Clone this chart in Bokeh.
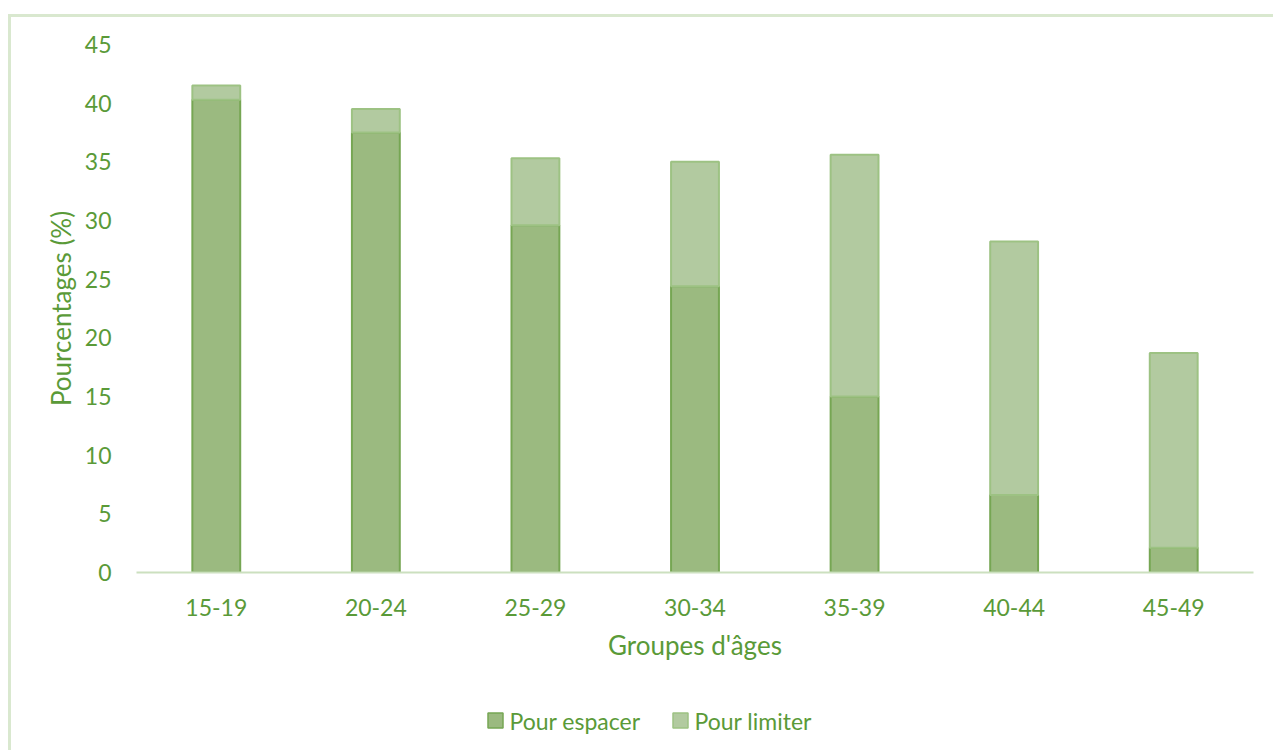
from bokeh.plotting import figure
from bokeh.models import ColumnDataSource
from bokeh.layouts import column
from bokeh.core.properties import value
from bokeh.embed import file_html
from bokeh.resources import INLINE

# Age groups and percentages (stacked)
groupes = ["15-19", "20-24", "25-29", "30-34", "35-39", "40-44", "45-49"]
pour_espacer = [40.3, 37.5, 29.6, 24.4, 15.0, 6.6, 2.1]
pour_limiter = [1.2, 2.0, 5.7, 10.6, 20.6, 21.6, 16.6]
y_ticks = [0, 5, 10, 15, 20, 25, 30, 35, 40, 45]
series = ["Pour espacer", "Pour limiter"]

TEXT = "#5A9A38"
FONT = "Lato"
FILLS = ["#9BBA80", "#B2CAA0"]
EDGES = ["#76A653", "#9DC283"]
FRAME_W = 1117

src = ColumnDataSource(dict(groupes=groupes, espacer=pour_espacer, limiter=pour_limiter))

p = figure(
    x_range=groupes, y_range=(0, 45),
    frame_width=FRAME_W, frame_height=528,
    output_backend="svg", toolbar_location=None,
    min_border_left=125, min_border_right=20, min_border_top=27, min_border_bottom=120,
)

p.vbar_stack(["espacer", "limiter"], x="groupes", width=0.3, source=src,
             fill_color=FILLS, line_color=EDGES, line_width=2)

p.outline_line_color = None
p.xgrid.grid_line_color = None
p.ygrid.grid_line_color = None
p.x_range.range_padding = 0.0

p.yaxis.ticker = y_ticks
p.yaxis.axis_line_color = None
p.yaxis.major_tick_line_color = None
p.yaxis.minor_tick_line_color = None
p.yaxis.major_label_standoff = 19
p.yaxis.axis_label = "Pourcentages (%)"
p.yaxis.axis_label_standoff = 5

p.xaxis.axis_line_color = "#CCE0BF"
p.xaxis.axis_line_width = 2
p.xaxis.major_tick_line_color = None
p.xaxis.minor_tick_line_color = None
p.xaxis.major_label_standoff = 20
p.xaxis.axis_label = "Groupes d'âges"
p.xaxis.axis_label_standoff = 10

for ax in (p.xaxis, p.yaxis):
    ax.major_label_text_color = TEXT
    ax.major_label_text_font = FONT
    ax.major_label_text_font_size = "23px"
    ax.axis_label_text_color = TEXT
    ax.axis_label_text_font = FONT
    ax.axis_label_text_font_size = "26px"
    ax.axis_label_text_font_style = "normal"

# Legend strip under the chart; its frame lines up with the chart frame,
# so x is measured in pixels from the chart's left frame edge
LEG_H = 58
leg = figure(
    width=1262, height=LEG_H, x_range=(0, FRAME_W), y_range=(0, LEG_H),
    output_backend="svg", toolbar_location=None,
    min_border=0, outline_line_color=None,
)
leg.axis.visible = False
leg.grid.visible = False

key_x = [359, 544]
key_y = [LEG_H - 28] * len(series)
leg.rect(x=key_x, y=key_y, width=15, height=15,
         fill_color=FILLS, line_color=EDGES, line_width=1.5)
leg.text(x=[k + 14 for k in key_x], y=key_y, text=series,
         text_color=TEXT, text_font=value(FONT), text_font_size="23px",
         text_baseline="middle", text_align="left")

layout = column(p, leg, spacing=0,
                styles={"margin-left": "8px", "margin-top": "14px",
                        "border-left": "3px solid #D9E8CF",
                        "border-top": "3px solid #D9E8CF"})

open("out.html", "w").write(file_html(layout, INLINE))
